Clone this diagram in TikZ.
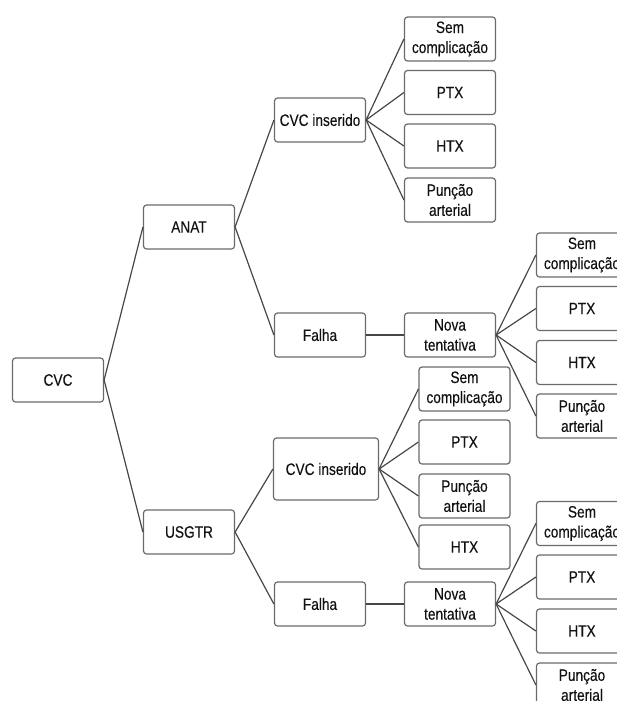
\documentclass[tikz,border=0pt]{standalone}
\usepackage{fontspec}
\setmainfont[FakeStretch=0.83,FakeBold=0.25]{Liberation Sans}
\usepackage{xcolor}
\definecolor{boxline}{HTML}{6A6A6A}
\definecolor{conline}{HTML}{474747}
\definecolor{txt}{HTML}{111111}

\begin{document}
\begin{tikzpicture}[x=1pt,y=-1pt,
  caixa/.style={draw=boxline,line width=1.2pt,rounded corners=3pt,fill=white,
    minimum width=91pt,minimum height=44pt,inner sep=0pt,align=center,
    text=txt,font=\fontsize{16.5}{20}\selectfont},
  caixag/.style={caixa,minimum width=105pt,minimum height=62pt},
  liga/.style={draw=conline,line width=1.2pt}]
\useasboundingbox (0,0) rectangle (617,701);
\clip (0,0) rectangle (617,701);
% raiz e primeiro nivel
\node[caixa] (cvc) at (58,380) {CVC};
\node[caixa] (anat) at (189,227) {ANAT};
\node[caixa] (usgtr) at (189,532) {USGTR};
% ramo ANAT
\node[caixa] (insA) at (320,120) {CVC inserido};
\node[caixa] (falhaA) at (320,335) {Falha};
\node[caixa] (novaA) at (450,335) {Nova\\tentativa};
\node[caixa] (semA) at (450,39) {Sem\\complicação};
\node[caixa] (ptxA) at (450,92.5) {PTX};
\node[caixa] (htxA) at (450,146) {HTX};
\node[caixa] (punA) at (450,200) {Punção\\arterial};
\node[caixa] (semNA) at (582,255) {Sem\\complicação};
\node[caixa] (ptxNA) at (582,308.5) {PTX};
\node[caixa] (htxNA) at (582,362.5) {HTX};
\node[caixa] (punNA) at (582,416) {Punção\\arterial};
% ramo USGTR
\node[caixag] (insU) at (326,469) {CVC inserido};
\node[caixa] (falhaU) at (320,604) {Falha};
\node[caixa] (novaU) at (450,604) {Nova\\tentativa};
\node[caixa] (semU) at (464.5,389) {Sem\\complicação};
\node[caixa] (ptxU) at (464.5,442) {PTX};
\node[caixa] (punU) at (464.5,496) {Punção\\arterial};
\node[caixa] (htxU) at (464.5,547) {HTX};
\node[caixa] (semNU) at (582,523.5) {Sem\\complicação};
\node[caixa] (ptxNU) at (582,577) {PTX};
\node[caixa] (htxNU) at (582,631) {HTX};
\node[caixa] (punNU) at (582,685) {Punção\\arterial};
% ligacoes
\draw[liga] (cvc.east) -- (anat.west);
\draw[liga] (cvc.east) -- (usgtr.west);
\draw[liga] (anat.east) -- (insA.west);
\draw[liga] (anat.east) -- (falhaA.west);
\draw[liga] (insA.east) -- (semA.west);
\draw[liga] (insA.east) -- (ptxA.west);
\draw[liga] (insA.east) -- (htxA.west);
\draw[liga] (insA.east) -- (punA.west);
\draw[liga] (falhaA.east) -- (novaA.west);
\draw[liga] (novaA.east) -- (semNA.west);
\draw[liga] (novaA.east) -- (ptxNA.west);
\draw[liga] (novaA.east) -- (htxNA.west);
\draw[liga] (novaA.east) -- (punNA.west);
\draw[liga] (usgtr.east) -- (insU.west);
\draw[liga] (usgtr.east) -- (falhaU.west);
\draw[liga] (insU.east) -- (semU.west);
\draw[liga] (insU.east) -- (ptxU.west);
\draw[liga] (insU.east) -- (punU.west);
\draw[liga] (insU.east) -- (htxU.west);
\draw[liga] (falhaU.east) -- (novaU.west);
\draw[liga] (novaU.east) -- (semNU.west);
\draw[liga] (novaU.east) -- (ptxNU.west);
\draw[liga] (novaU.east) -- (htxNU.west);
\draw[liga] (novaU.east) -- (punNU.west);
\end{tikzpicture}
\end{document}
